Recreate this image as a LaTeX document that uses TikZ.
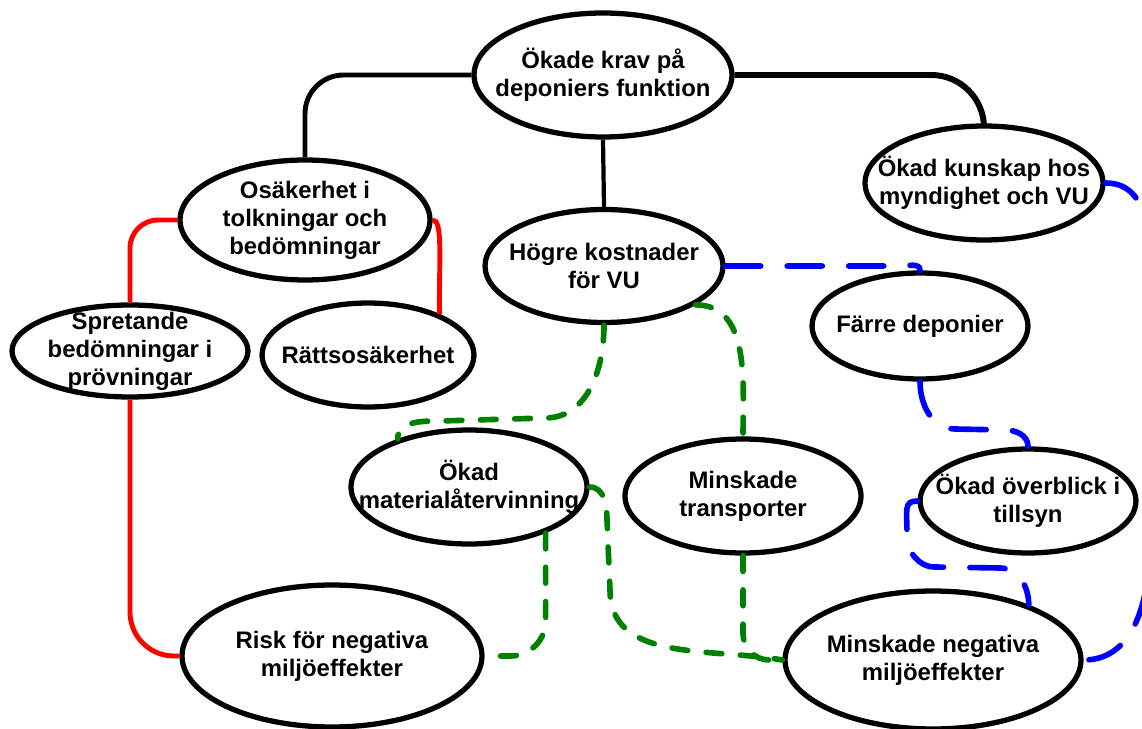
\documentclass[tikz,border=0pt]{standalone}
\usepackage{fontspec}
\setmainfont{Liberation Sans}
\usetikzlibrary{shapes.geometric}

\begin{document}
\begin{tikzpicture}[x=0.02cm, y=-0.02cm,
    bubble/.style 2 args={ellipse, draw, line width=3pt, inner sep=0pt,
      minimum width=#1cm, minimum height=#2cm},
    txt/.style={font=\fontsize{13.6}{15.9}\selectfont\bfseries, align=center},
    blk/.style={line width=2.8pt},
    rd/.style={red, line width=2.8pt},
    grn/.style={green!50!black, line width=3.2pt, line cap=round, dash pattern=on 9pt off 10.5pt},
    blu/.style={blue, line width=3.2pt, line cap=round, dash pattern=on 20pt off 15pt}]
        \useasboundingbox (0,0) rectangle (1142,729);

        \node[bubble={5.16}{2.48}, label={[txt]center:{Ökade krav på\\deponiers funktion}}] (krav) at (603,75) {};
        \node[bubble={5.0}{2.4}, label={[txt]center:{Osäkerhet i\\tolkningar och\\bedömningar}}] (osak) at (305,220) {};
        \node[bubble={4.76}{2.28}, label={[txt]center:{Ökad kunskap hos\\myndighet och VU}}] (kun) at (984,183) {};
        \node[bubble={4.76}{2.26}, label={[txt]center:{Högre kostnader\\för VU}}] (hog) at (604,266) {};
        \node[bubble={4.72}{1.84}, label={[txt]center:{Spretande\\bedömningar i\\prövningar}}] (spre) at (130,351) {};
        \node[bubble={4.24}{2.08}, label={[txt]center:{Rättsosäkerhet}}] (ratt) at (368,355) {};
        \node[bubble={4.32}{2.12}, label={[txt]center:{Färre deponier}}] (far) at (920,326) {};
        \node[bubble={4.72}{2.28}, label={[txt]center:{Ökad\\materialåtervinning}}] (mat) at (469,487) {};
        \node[bubble={4.72}{2.28}, label={[txt]center:{Minskade\\transporter}}] (trans) at (743,496) {};
        \node[bubble={4.32}{2.08}, label={[txt]center:{Ökad överblick i\\tillsyn}}] (over) at (1028,501) {};
        \node[bubble={6.0}{2.84}, label={[txt]center:{Risk för negativa\\miljöeffekter}}] (risk) at (332,656) {};
        \node[bubble={5.92}{2.76}, label={[txt]center:{Minskade negativa\\miljöeffekter}}] (min) at (933,660) {};

        \draw[blk, rounded corners=22pt] (krav.west) -| (osak.north);
        \draw[blk, line width=2.4pt] (krav.south) -- (hog.north);
        \draw[blk, line width=3.4pt, rounded corners=30pt] (krav.east) -| (kun.north);

        \draw[rd, rounded corners=16pt] (osak.west) -| (spre.north);
        \draw[rd] (osak.east) .. controls +(10,0) and +(0,-60) .. (ratt.30);
        \draw[rd, rounded corners=25pt] (spre.south) |- (risk.west);

        \draw[grn] (hog.south) to[out=-90,in=0] (545,418) -- (440,421) to[out=180,in=90] (mat.146);
        \draw[grn] (hog.-23) to[out=0,in=90] (trans.north);
        \draw[grn] (mat.east) to[out=0,in=90] (607,520) -- (610,590) to[out=-90,in=170] (min.west);
        \draw[grn, rounded corners=20pt, shorten >=8pt] (mat.-31) |- (risk.east);
        \draw[grn, rounded corners=15pt] (trans.south) |- (min.west);

        \draw[blu] (hog.east) -- ++(175,0) to[out=0,in=90] (far.north);
        \draw[blu] (far.south) to[out=-90,in=180] (955,429) -- (1005,430) to[out=0,in=90] (over.north);
        \draw[blu] (over.west) .. controls +(-14,0) and +(0,-25) .. (907,535) to[out=-90,in=180] (935,567) -- (1000,568) to[out=0,in=90] (min.30);
        \draw[blu] (kun.east) to[out=0,in=90] (1150,300) -- (1150,540) to[out=-90,in=0] (min.east);
     \end{tikzpicture}
\end{document}
